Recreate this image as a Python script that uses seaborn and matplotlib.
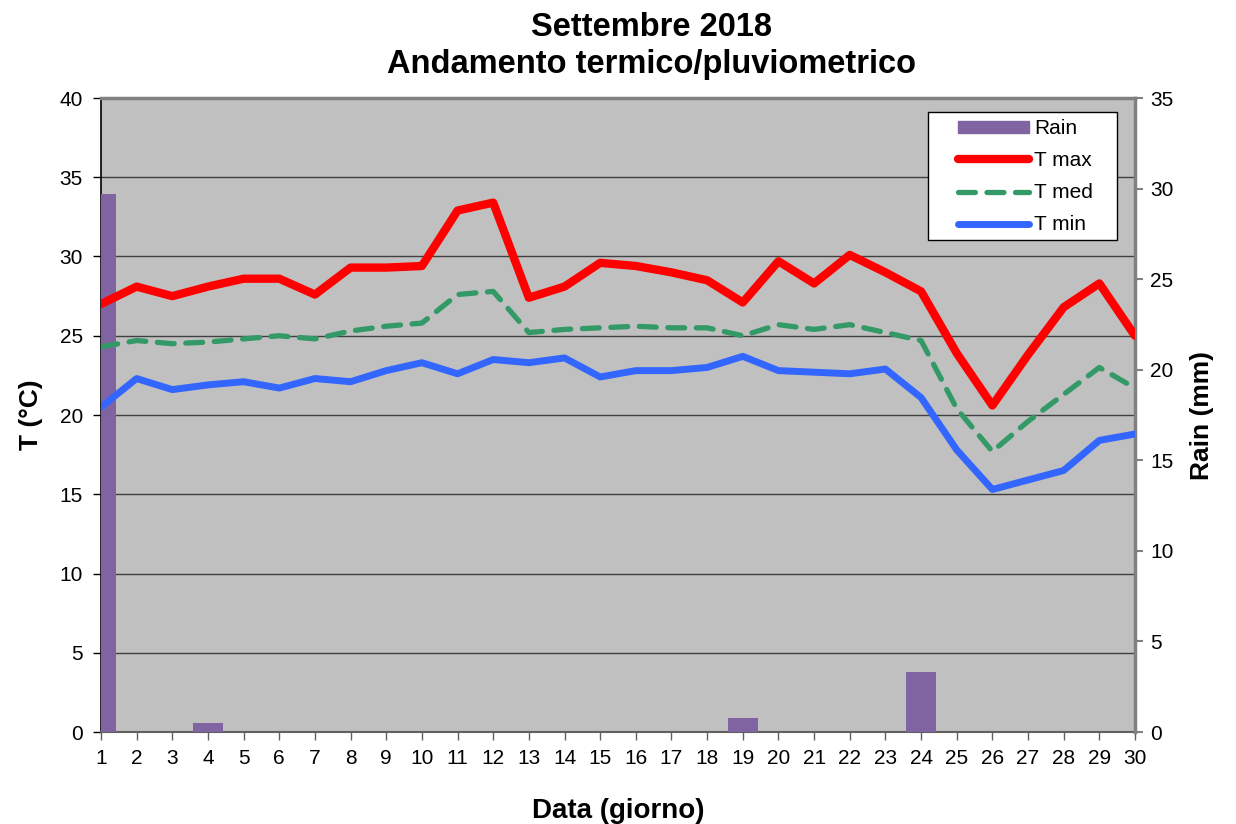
import matplotlib
matplotlib.use("Agg")
import matplotlib.pyplot as plt
import seaborn as sns
import pandas as pd
from matplotlib.patches import Patch, Rectangle
from matplotlib.lines import Line2D

days = list(range(1, 31))
t_max = [27.0, 28.1, 27.5, 28.1, 28.6, 28.6, 27.6, 29.3, 29.3, 29.4,
         32.9, 33.4, 27.4, 28.1, 29.6, 29.4, 29.0, 28.5, 27.1, 29.7,
         28.3, 30.1, 29.0, 27.8, 23.9, 20.6, 23.8, 26.8, 28.3, 25.0]
t_med = [24.3, 24.7, 24.5, 24.6, 24.8, 25.0, 24.8, 25.3, 25.6, 25.8,
         27.6, 27.8, 25.2, 25.4, 25.5, 25.6, 25.5, 25.5, 25.0, 25.7,
         25.4, 25.7, 25.2, 24.7, 20.4, 17.7, 19.6, 21.3, 23.0, 21.7]
t_min = [20.5, 22.3, 21.6, 21.9, 22.1, 21.7, 22.3, 22.1, 22.8, 23.3,
         22.6, 23.5, 23.3, 23.6, 22.4, 22.8, 22.8, 23.0, 23.7, 22.8,
         22.7, 22.6, 22.9, 21.1, 17.8, 15.3, 15.9, 16.5, 18.4, 18.8]
rain = [29.7, 0, 0, 0.5, 0, 0, 0, 0, 0, 0,
        0, 0, 0, 0, 0, 0, 0, 0, 0.8, 0,
        0, 0, 0, 3.3, 0, 0, 0, 0, 0, 0]

df = pd.DataFrame({"day": days, "tmax": t_max, "tmed": t_med, "tmin": t_min, "rain": rain})

sns.set_theme(style="white")
plt.rcParams['font.family'] = ['Liberation Sans', 'DejaVu Sans']
plt.rcParams['text.color'] = 'black'
plt.rcParams['axes.labelcolor'] = 'black'
plt.rcParams['xtick.color'] = 'black'
plt.rcParams['ytick.color'] = 'black'

C_RAIN = "#8064A2"
C_MAX = "#FF0000"
C_MED = "#339966"
C_MIN = "#3366FF"
GRAY = "#808080"
DASH = (0, (3.2, 2.2))

fig = plt.figure(figsize=(12.36, 8.24), dpi=100)
ax = fig.add_axes([101/1236, 1-732/824, 1034/1236, 634/824])
ax.set_facecolor("#C0C0C0")
ax.set_xlim(1, 30)
ax.set_ylim(0, 40)
ax.set_yticks(range(0, 41, 5))
ax.set_xticks(days)
ax.yaxis.grid(True, color="#404040", linewidth=1.0)
ax.set_axisbelow(True)

# rain axis
ax2 = ax.twinx()
sns.barplot(data=df, x="day", y="rain", native_scale=True, width=0.84,
            color=C_RAIN, saturation=1, ax=ax2, zorder=2, linewidth=0)
ax2.set_xlim(1, 30)
ax2.set_ylim(0, 35)
ax2.set_yticks(range(0, 36, 5))

# lines axis
ax3 = ax.twinx()
sns.lineplot(data=df, x="day", y="tmax", color=C_MAX, linewidth=6, ax=ax3)
sns.lineplot(data=df, x="day", y="tmed", color=C_MED, linewidth=3.8, ax=ax3,
             linestyle=DASH, dash_capstyle='round')
sns.lineplot(data=df, x="day", y="tmin", color=C_MIN, linewidth=5, ax=ax3)
ax3.set_xlim(1, 30)
ax3.set_ylim(0, 40)
ax3.set_yticks([])
ax3.set_ylabel("")
ax3.set_xlabel("")
ax2.set_xlabel("")

for a in (ax, ax2, ax3):
    for s in a.spines.values():
        s.set_visible(False)
ax.spines['left'].set_visible(True)
ax.spines['left'].set_color("black")
ax.spines['left'].set_linewidth(1.2)
ax.spines['bottom'].set_visible(True)
ax.spines['bottom'].set_color("#606060")
ax.spines['bottom'].set_linewidth(1.5)
ax.spines['top'].set_visible(True)
ax.spines['top'].set_color(GRAY)
ax.spines['top'].set_linewidth(2.5)
ax2.spines['right'].set_visible(True)
ax2.spines['right'].set_color(GRAY)
ax2.spines['right'].set_linewidth(2.5)

ax.tick_params(axis='y', direction='out', length=6, width=1, color='black',
               labelsize=15, pad=7, left=True)
ax.tick_params(axis='x', direction='out', length=6, width=1, color='#606060',
               labelsize=15, pad=6, bottom=True)
ax2.tick_params(axis='y', direction='out', length=6, width=1.5, color=GRAY,
                labelsize=15, pad=5, right=True)

ax.set_ylabel("T (°C)", fontsize=19, fontweight='bold', labelpad=12)
ax.set_xlabel("Data (giorno)", fontsize=20, fontweight='bold', labelpad=22)
ax2.set_ylabel("Rain (mm)", fontsize=19, fontweight='bold', labelpad=12)

fig.text(652/1236, 1-46/824, "Settembre 2018\nAndamento termico/pluviometrico",
         ha='center', va='center', fontsize=23.5, fontweight='bold', linespacing=1.22)

# legend box and entries
box = Rectangle((827/1034, (732-240)/634), 189/1034, 128/634, transform=ax3.transAxes,
                facecolor='white', edgecolor='black', linewidth=1.0, zorder=10)
ax3.add_patch(box)
handles = [Patch(facecolor=C_RAIN, edgecolor=C_RAIN),
           Line2D([], [], color=C_MAX, linewidth=6, solid_capstyle='round'),
           Line2D([], [], color=C_MED, linewidth=3.8, linestyle=DASH, dash_capstyle='round'),
           Line2D([], [], color=C_MIN, linewidth=5, solid_capstyle='round')]
labels = ["Rain", "T max", "T med", "T min"]
leg = ax3.legend(handles, labels, loc='upper left',
                 bbox_to_anchor=((958-101)/1034, (732-119)/634),
                 fontsize=15, frameon=False, handlelength=3.4, handleheight=0.5,
                 labelspacing=0.63, borderpad=0, handletextpad=0.25,
                 borderaxespad=0)
leg.set_zorder(11)

fig.savefig("out.png", dpi=100)
